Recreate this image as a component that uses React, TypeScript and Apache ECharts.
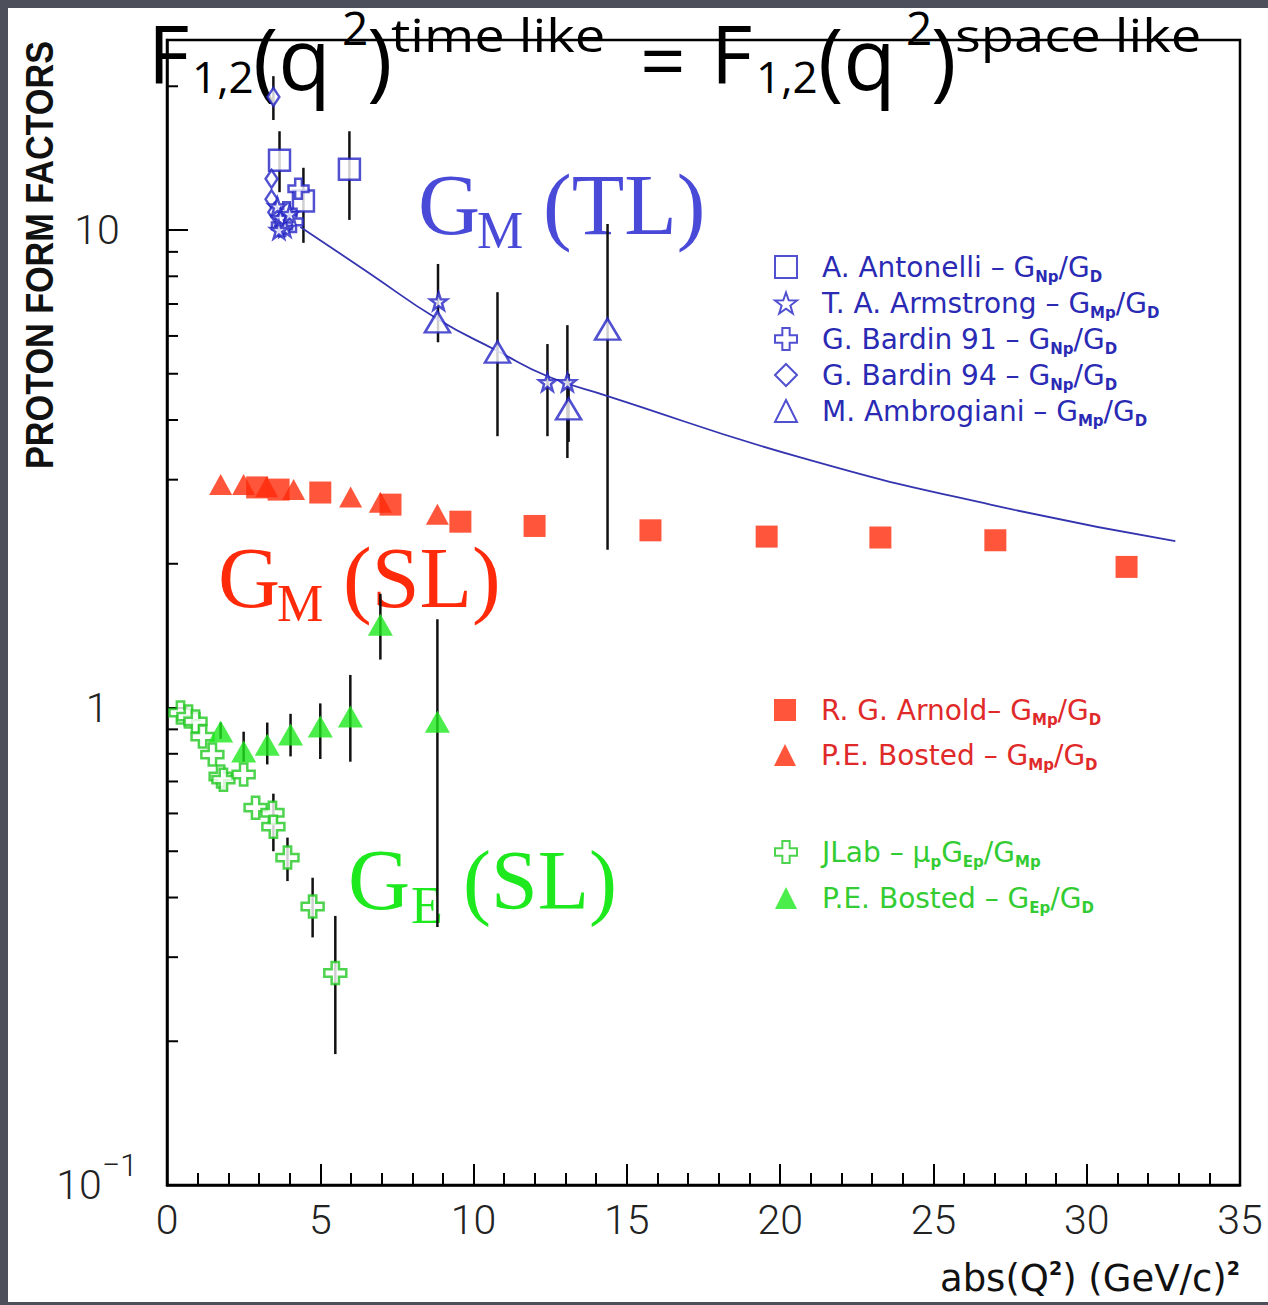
import React, { useEffect, useRef } from 'react';
import * as echarts from 'echarts';

const W = 1268;
const H = 1305;

// ---------- data (x = |Q^2| in (GeV/c)^2, y = form factor ratio) ----------
const antonelli = [[3.67, 14.0], [4.45, 11.5], [5.95, 13.4]];
const armstrong = [[3.6, 11.2], [3.7, 10.6], [3.85, 10.1], [4.0, 10.8], [3.65, 10.0], [8.86, 7.09], [12.41, 4.8], [13.06, 4.8]];
const bardin91 = [[4.29, 12.2], [3.9, 10.9], [4.1, 10.4], [3.75, 10.2]];
const bardin94 = [[3.47, 19.0], [3.41, 12.8], [3.41, 11.6], [3.5, 10.9]];
const ambrogiani = [[8.82, 6.42], [10.78, 5.55], [13.1, 4.22], [14.37, 6.2]];
const fitCurve = [[4.35, 10.15], [6.54, 8.17], [8.82, 6.51], [10.78, 5.58], [12.41, 4.94], [14.37, 4.49], [20.66, 3.34], [26.86, 2.66], [32.89, 2.23]];
const errTL = [[3.67, 12.0, 16.1], [3.47, 17.0, 21.0], [5.95, 10.5, 16.1], [4.45, 9.4, 13.5], [8.84, 5.82, 8.49], [10.78, 3.7, 7.41], [12.41, 3.7, 5.77], [13.06, 3.33, 6.32], [13.1, 3.6, 5.0], [14.37, 2.14, 10.3]];

const arnold = [[2.94, 2.89], [3.64, 2.86], [5.0, 2.82], [7.29, 2.66], [9.57, 2.45], [11.99, 2.4], [15.77, 2.35], [19.56, 2.28], [23.27, 2.27], [27.02, 2.24], [31.3, 1.97]];
const bostedGM = [[1.75, 2.93], [2.5, 2.93], [3.25, 2.9], [4.13, 2.86], [5.99, 2.76], [6.96, 2.69], [8.82, 2.54]];

const jlab = [[0.44, 0.976], [0.7, 0.957], [0.93, 0.935], [1.16, 0.869], [1.48, 0.797], [1.75, 0.717], [1.84, 0.706], [2.5, 0.724], [2.89, 0.617], [3.44, 0.602], [3.47, 0.563], [3.93, 0.485], [4.75, 0.383], [5.49, 0.278]];
const bostedGE = [[1.75, 0.891], [2.5, 0.809], [3.27, 0.836], [4.03, 0.878], [5.0, 0.912], [5.98, 0.957], [6.96, 1.49], [8.82, 0.934]];
const errSL = [[1.75, 0.86, 0.93], [2.5, 0.77, 0.89], [3.27, 0.76, 0.93], [4.03, 0.79, 0.97], [5.0, 0.78, 1.02], [5.98, 0.77, 1.17], [6.96, 1.26, 1.73], [8.82, 0.347, 1.53], [3.47, 0.5, 0.66], [3.93, 0.433, 0.534], [4.75, 0.33, 0.44], [5.49, 0.188, 0.366]];

const xTicks = { min: 0, max: 35, interval: 5 };
const yRange = { min: 0.1, max: 25 };
const yMinorTicks = [0.2, 0.3, 0.4, 0.5, 0.6, 0.7, 0.8, 0.9, 2, 3, 4, 5, 6, 7, 8, 9, 20];

const legendTL = ['A. Antonelli', 'T. A. Armstrong', 'G. Bardin 91', 'G. Bardin 94', 'M. Ambrogiani'];
const legendGM = ['R. G. Arnold', 'P.E. Bosted (GM)'];
const legendGE = ['JLab', 'P.E. Bosted (GE)'];
const legendText: Record<string, string> = {
  'A. Antonelli': 'A. Antonelli – G{s|Np}/G{s|D}',
  'T. A. Armstrong': 'T. A. Armstrong – G{s|Mp}/G{s|D}',
  'G. Bardin 91': 'G. Bardin 91 – G{s|Np}/G{s|D}',
  'G. Bardin 94': 'G. Bardin 94 – G{s|Np}/G{s|D}',
  'M. Ambrogiani': 'M. Ambrogiani – G{s|Mp}/G{s|D}',
  'R. G. Arnold': 'R. G. Arnold– G{s|Mp}/G{s|D}',
  'P.E. Bosted (GM)': 'P.E. Bosted – G{s|Mp}/G{s|D}',
  'JLab': 'JLab – μ{s|p}G{s|Ep}/G{s|Mp}',
  'P.E. Bosted (GE)': 'P.E. Bosted – G{s|Ep}/G{s|D}',
};

// ---------- styles ----------
const BLUE = '#2424c4';
const RED = '#ff2a0a';
const GREEN = '#1ee81e';
const LABEL_FONT = 'Roboto, "Liberation Sans", sans-serif';
const LEGEND_FONT = '"DejaVu Sans", "Liberation Sans", sans-serif';
const STAR = 'path://M0,-10 L2.35,-3.24 L9.51,-3.09 L3.8,1.24 L5.88,8.09 L0,4 L-5.88,8.09 L-3.8,1.24 L-9.51,-3.09 L-2.35,-3.24 Z';
const CROSS = 'path://M-3,-9 L3,-9 L3,-3 L9,-3 L9,3 L3,3 L3,9 L-3,9 L-3,3 L-9,3 L-9,-3 L-3,-3 Z';

const errRender = (color: string) => (params: any, api: any) => {
  const p1 = api.coord([api.value(0), api.value(1)]);
  const p2 = api.coord([api.value(0), api.value(2)]);
  return {
    type: 'line',
    shape: { x1: p1[0], y1: p1[1], x2: p2[0], y2: p2[1] },
    style: { stroke: color, lineWidth: 2.5 },
  };
};

const hollow = (c: string) => ({ color: '#ffffff', borderColor: c, borderWidth: 2.5 });

function legendBlock(names: string[], top: number, gap: number, color: string) {
  return {
    data: names,
    orient: 'vertical',
    left: 769,
    top,
    itemGap: gap,
    itemWidth: 22,
    itemHeight: 22,
    formatter: (n: string) => legendText[n],
    textStyle: {
      color,
      fontFamily: LEGEND_FONT,
      fontSize: 28,
      lineHeight: 34,
      padding: [0, 0, 0, 20],
      rich: {
        s: { color, fontFamily: LEGEND_FONT, fontWeight: 'bold', fontSize: 15, lineHeight: 12, verticalAlign: 'bottom' },
      },
    },
    inactiveColor: color,
    selectedMode: false,
  };
}

function txt(text: string, x: number, y: number, fontSize: number, color: string, font: string, extra: any = {}, sx = 1) {
  return {
    type: 'text',
    x,
    y,
    scaleX: sx,
    silent: true,
    style: { text, fontSize, fill: color, fontFamily: font, verticalAlign: 'middle', align: 'left', ...extra },
  };
}

export default function App() {
  const ref = useRef<HTMLDivElement>(null);
  useEffect(() => {
    if (!ref.current) return;
    const chart = echarts.init(ref.current, null, { renderer: 'svg' });
    const TITLE_FONT = '"Open Sans", "Noto Sans", sans-serif';
    const SERIF = '"Liberation Serif", "DejaVu Serif", serif';
    const option: any = {
      animation: false,
      backgroundColor: 'transparent',
      grid: {
        left: 167, top: 40, right: W - 1240, bottom: H - 1185,
        show: true, borderColor: '#000', borderWidth: 2.5, containLabel: false, outerBoundsMode: 'none',
      },
      xAxis: {
        type: 'value',
        min: xTicks.min, max: xTicks.max, interval: xTicks.interval,
        axisLine: { show: true, lineStyle: { color: '#000', width: 2.5 } },
        axisTick: { show: true, inside: true, length: 21, lineStyle: { color: '#000', width: 2 } },
        minorTick: { show: true, splitNumber: 5, length: 12, lineStyle: { color: '#000', width: 2 } },
        splitLine: { show: false },
        minorSplitLine: { show: false },
        axisLabel: { margin: 14, color: '#222', fontSize: 41, fontFamily: LABEL_FONT, fontWeight: 300 },
      },
      yAxis: {
        type: 'log', logBase: 10, min: yRange.min, max: yRange.max,
        axisLine: { show: true, lineStyle: { color: '#000', width: 2.5 } },
        axisTick: { show: true, inside: true, length: 21, lineStyle: { color: '#000', width: 2 } },
        splitLine: { show: false },
        axisLabel: {
          margin: 70, align: 'center', color: '#222', fontSize: 41, fontFamily: LABEL_FONT, fontWeight: 300,
          showMaxLabel: false,
          formatter: (v: number) => {
            const l = Math.log10(v);
            const e = Math.round(l);
            if (Math.abs(l - e) > 1e-6) return '';
            if (e === 1) return '10';
            if (e === 0) return '1';
            return '{b|10}{s|' + (e < 0 ? '−' : '') + Math.abs(e) + '}';
          },
          rich: {
            b: { fontSize: 41, fontFamily: LABEL_FONT, fontWeight: 300, color: '#222', lineHeight: 72 },
            s: { fontSize: 32, fontFamily: LABEL_FONT, fontWeight: 300, color: '#222', lineHeight: 22, verticalAlign: 'top' },
          },
        },
      },
      legend: [
        legendBlock(legendTL, 245, 2, '#2a2ab4'),
        legendBlock(legendGM, 688, 11, '#e02a2a'),
        legendBlock(legendGE, 830, 12, '#33cc33'),
      ],
      series: [
        {
          type: 'custom', name: 'minorY', silent: true, z: 1,
          data: yMinorTicks.map((v) => [xTicks.min, v]),
          encode: { x: 0, y: 1 },
          renderItem: (params: any, api: any) => {
            const p = api.coord([api.value(0), api.value(1)]);
            return { type: 'line', shape: { x1: p[0], y1: p[1], x2: p[0] + 11, y2: p[1] }, style: { stroke: '#000', lineWidth: 2 } };
          },
        },
        { type: 'custom', name: 'errTL', silent: true, z: 1, data: errTL, encode: { x: 0, y: [1, 2] }, renderItem: errRender('#111') },
        { type: 'custom', name: 'errSL', silent: true, z: 1, data: errSL, encode: { x: 0, y: [1, 2] }, renderItem: errRender('#111') },
        {
          type: 'line', name: 'fit', data: fitCurve, smooth: true, showSymbol: false, z: 2, silent: true,
          lineStyle: { color: '#3434b0', width: 1.8 },
        },
        { type: 'scatter', name: 'A. Antonelli', data: antonelli, symbol: 'rect', symbolSize: 21, itemStyle: hollow(BLUE), z: 3 },
        { type: 'scatter', name: 'T. A. Armstrong', data: armstrong, symbol: STAR, symbolSize: 17, itemStyle: hollow(BLUE), z: 4 },
        { type: 'scatter', name: 'G. Bardin 91', data: bardin91, symbol: CROSS, symbolSize: 20, itemStyle: hollow(BLUE), z: 3 },
        { type: 'scatter', name: 'G. Bardin 94', data: bardin94, symbol: 'diamond', symbolSize: [12, 18], itemStyle: hollow(BLUE), z: 3 },
        { type: 'scatter', name: 'M. Ambrogiani', data: ambrogiani, symbol: 'triangle', symbolSize: [25, 21], itemStyle: hollow(BLUE), z: 3 },
        { type: 'scatter', name: 'R. G. Arnold', data: arnold, symbol: 'rect', symbolSize: 22, itemStyle: { color: RED }, z: 3 },
        { type: 'scatter', name: 'P.E. Bosted (GM)', data: bostedGM, symbol: 'triangle', symbolSize: [23, 21], itemStyle: { color: RED }, z: 3 },
        { type: 'scatter', name: 'JLab', data: jlab, symbol: CROSS, symbolSize: 22, itemStyle: hollow('#22c822'), z: 3 },
        { type: 'scatter', name: 'P.E. Bosted (GE)', data: bostedGE, symbol: 'triangle', symbolSize: [25, 22], itemStyle: { color: GREEN }, z: 4 },
      ],
      graphic: [
        // title
        txt('F', 148, 52, 80, '#000', TITLE_FONT),
        txt('1,2', 192, 76, 44, '#000', TITLE_FONT),
        txt('(q', 253, 56, 86, '#000', TITLE_FONT),
        txt('2', 342, 27, 46, '#000', TITLE_FONT),
        txt(')', 367, 56, 86, '#000', TITLE_FONT),
        txt('time like', 391, 34, 46, '#000', TITLE_FONT, {}, 1.18),
        txt('=', 640, 58, 80, '#000', TITLE_FONT),
        txt('F', 711, 52, 80, '#000', TITLE_FONT),
        txt('1,2', 756, 76, 44, '#000', TITLE_FONT),
        txt('(q', 818, 56, 86, '#000', TITLE_FONT),
        txt('2', 906, 27, 46, '#000', TITLE_FONT),
        txt(')', 931, 56, 86, '#000', TITLE_FONT),
        txt('space like', 955, 34, 46, '#000', TITLE_FONT, {}, 1.18),
        // curve labels
        txt('G', 418, 205, 86, '#4a4ad8', SERIF),
        txt('M', 477, 230, 52, '#4a4ad8', SERIF),
        txt('(TL)', 543, 205, 86, '#4a4ad8', SERIF),
        txt('G', 218, 578, 86, RED, SERIF),
        txt('M', 277, 603, 52, RED, SERIF),
        txt('(SL)', 343, 578, 86, RED, SERIF),
        txt('G', 348, 880, 86, GREEN, SERIF),
        txt('E', 411, 905, 52, GREEN, SERIF),
        txt('(SL)', 463, 880, 84, GREEN, SERIF),
        // axis titles
        {
          type: 'text', x: 40, y: 255, rotation: Math.PI / 2, scaleX: 0.9, silent: true,
          style: { text: 'PROTON FORM FACTORS', fontSize: 38, fontWeight: 'bold', fill: '#111', fontFamily: '"Liberation Sans Narrow", "Liberation Sans", sans-serif', align: 'center', verticalAlign: 'middle' },
        },
        {
          type: 'text', x: 1240, y: 1278, silent: true,
          style: {
            text: '{t|abs(Q}{u|2}{t|) (GeV/c)}{u|2}', align: 'right', verticalAlign: 'middle',
            rich: {
              t: { fontSize: 37, fontFamily: LEGEND_FONT, fill: '#111', lineHeight: 40 },
              u: { fontSize: 19, fontFamily: LEGEND_FONT, fontWeight: 'bold', fill: '#111', lineHeight: 16, verticalAlign: 'top' },
            },
          },
        },
      ],
    };
    chart.setOption(option);
    return () => chart.dispose();
  }, []);
  return (
    <div style={{ position: 'fixed', left: 0, top: 0, width: W, height: H, background: '#4d505a' }}>
      <div style={{ position: 'absolute', left: 8, top: 8, width: W - 8, height: H - 11, background: '#ffffff' }} />
      <div ref={ref} style={{ position: 'absolute', left: 0, top: 0, width: W, height: H }} />
    </div>
  );
}
